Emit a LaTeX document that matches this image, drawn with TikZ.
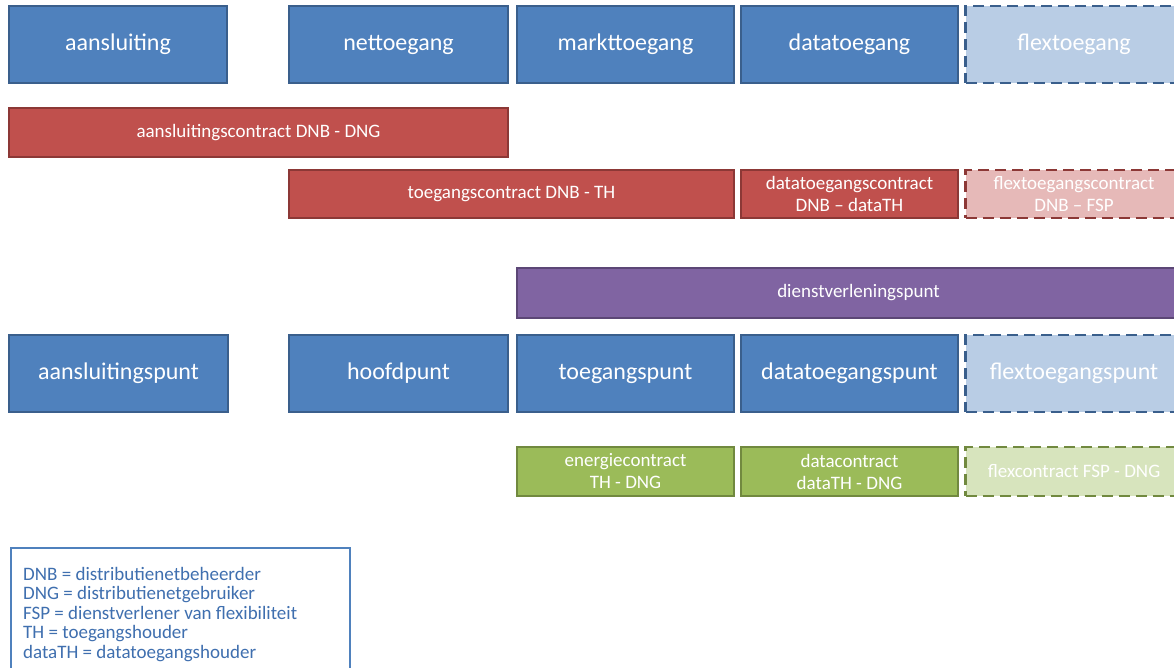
\documentclass[tikz,border=0pt]{standalone}
\usepackage{fontspec}
\setmainfont{Carlito}
\usetikzlibrary{positioning}

\definecolor{blauw}{HTML}{4F81BD}
\definecolor{blauwrand}{HTML}{3A5F8C}
\definecolor{rood}{HTML}{C0504D}
\definecolor{roodrand}{HTML}{8C3836}
\definecolor{paars}{HTML}{8064A2}
\definecolor{paarsrand}{HTML}{5C4776}
\definecolor{groen}{HTML}{9BBB59}
\definecolor{groenrand}{HTML}{71893F}
\definecolor{lichtblauw}{HTML}{B9CDE5}
\definecolor{lichtrood}{HTML}{E6B9B8}
\definecolor{lichtgroen}{HTML}{D7E4BD}
\definecolor{legendatekst}{HTML}{3F6FAF}

\tikzset{
  maat/.style 2 args={minimum width=#1pt, minimum height=#2pt},
  vak/.style={rectangle, line width=1.5pt, text=white, inner sep=0pt, align=center},
  groot/.style={vak, font=\fontsize{24}{29}\selectfont},
  klein/.style={vak, font=\fontsize{19}{22}\selectfont},
  flex/.style={line width=2.8pt, dash pattern=on 11pt off 6pt},
  blauwvak/.style={groot, draw=blauwrand, fill=blauw},
  roodvak/.style={klein, draw=roodrand, fill=rood},
  paarsvak/.style={klein, draw=paarsrand, fill=paars},
  groenvak/.style={klein, draw=groenrand, fill=groen}
}

\begin{document}
\begin{tikzpicture}[x=1pt,y=-1pt]
\useasboundingbox (0,0) rectangle (1174,667);
\clip (0,0) rectangle (1174,667);

% toegangen
\node[blauwvak, maat={218}{77}] (aansluiting) at (118,44.5) {aansluiting};
\node[blauwvak, maat={219}{77}] (nettoegang) at (398.5,44.5) {nettoegang};
\node[blauwvak, maat={217}{77}] (markttoegang) at (625.5,44.5) {markttoegang};
\node[blauwvak, maat={217}{77}] (datatoegang) at (849.5,44.5) {datatoegang};
\node[groot, flex, draw=blauwrand, fill=lichtblauw, maat={217}{77}] (flextoegang) at (1074,44.5) {flextoegang};

% contracten DNB
\node[roodvak, maat={499}{49}] (aansluitingscontract) at (258.5,132.5) {aansluitingscontract DNB - DNG};
\node[roodvak, maat={445}{48}] (toegangscontract) at (511.5,194) {toegangscontract DNB - TH};
\node[roodvak, maat={217}{48}] (datatoegangscontract) at (849.5,194) {datatoegangscontract\\DNB -- dataTH};
\node[klein, flex, draw=roodrand, fill=lichtrood, maat={217}{48}] (flextoegangscontract) at (1074,194) {flextoegangscontract\\DNB -- FSP};

\node[paarsvak, maat={683}{50}] (dienstverleningspunt) at (858.5,293) {dienstverleningspunt};

% punten
\node[blauwvak, maat={219}{77}] (aansluitingspunt) at (118.5,373.5) {aansluitingspunt};
\node[blauwvak, maat={219}{77}] (hoofdpunt) at (398.5,373.5) {hoofdpunt};
\node[blauwvak, maat={217}{77}] (toegangspunt) at (625.5,373.5) {toegangspunt};
\node[blauwvak, maat={217}{77}] (datatoegangspunt) at (849.5,373.5) {datatoegangspunt};
\node[groot, flex, draw=blauwrand, fill=lichtblauw, maat={217}{77}] (flextoegangspunt) at (1074,373.5) {flextoegangspunt};

% contracten DNG
\node[groenvak, maat={217}{49}] (energiecontract) at (625.5,471.5) {energiecontract\\TH - DNG};
\node[groenvak, maat={217}{49}] (datacontract) at (849.5,471.5) {datacontract\\dataTH - DNG};
\node[klein, flex, draw=groenrand, fill=lichtgroen, maat={217}{49}] (flexcontract) at (1074,471.5) {flexcontract FSP - DNG};

% legenda
\node[draw=blauw, line width=1.8pt, fill=white, anchor=north west, maat={339}{150}] (legenda) at (10,547) {};
\node[anchor=north west, align=left, inner sep=0pt, text=legendatekst,
      font=\fontsize{19}{19.5}\selectfont] (afkortingen) at (23,567)
  {DNB = distributienetbeheerder\\
   DNG = distributienetgebruiker\\
   FSP = dienstverlener van flexibiliteit\\
   TH = toegangshouder\\
   dataTH = datatoegangshouder};
\end{tikzpicture}
\end{document}
